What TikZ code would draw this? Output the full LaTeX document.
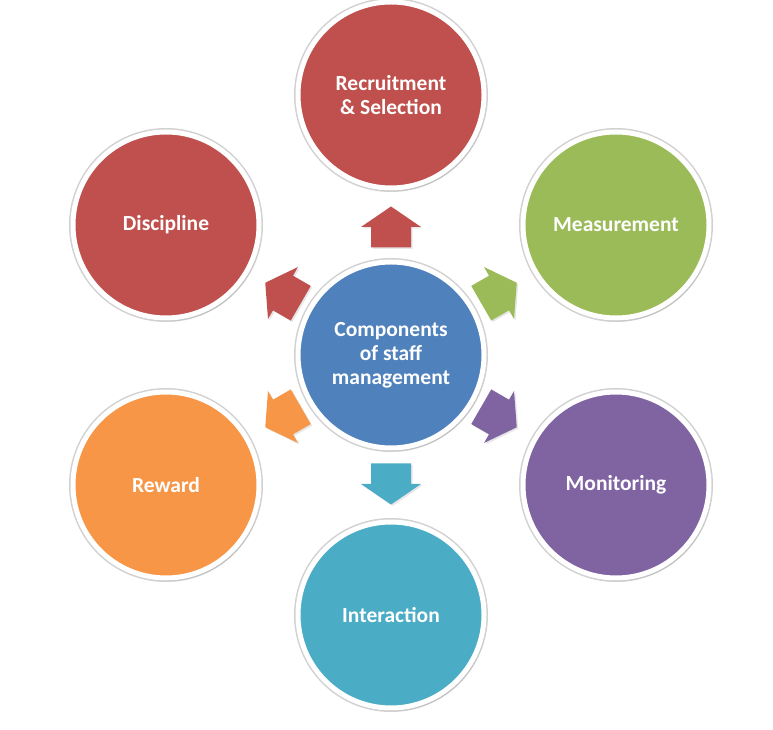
\documentclass[tikz,border=0pt]{standalone}
\usepackage{fontspec}
\setmainfont{Carlito}
\usetikzlibrary{shadows}
\definecolor{cred}{HTML}{C0504D}
\definecolor{cgreen}{HTML}{9BBB59}
\definecolor{cpurple}{HTML}{8064A2}
\definecolor{caqua}{HTML}{4BACC6}
\definecolor{corange}{HTML}{F79646}
\definecolor{cblue}{HTML}{4F81BD}
\tikzset{
  ball/.style={circle, minimum size=186pt, inner sep=0pt, fill=#1, draw=white, line width=5pt,
    preaction={draw=black!18, line width=8pt},
    drop shadow={opacity=0.22, shadow xshift=2pt, shadow yshift=-3pt},
    text=white, align=center, font=\fontsize{21.5}{24}\selectfont\bfseries},
  blockarrow/.style={fill=#1, draw=none,
    drop shadow={opacity=0.2, shadow xshift=1.5pt, shadow yshift=-1.5pt}}
}
\newcommand{\blockarr}[4]{%
  \path[blockarrow=#1, shift={(#2,#3)}, rotate=#4]
    (-20.5,-20) -- (0,-20) -- (0,-30) -- (20.5,0) -- (0,30) -- (0,20) -- (-20.5,20) -- cycle;}
\begin{document}
\begin{tikzpicture}[x=1pt,y=1pt]
\useasboundingbox (0,0) rectangle (773,730);
\node[ball=cblue] (center) at (391,375) {Components\\of staff\\management};
\node[ball=cred] (recruit) at (391,635) {Recruitment\\\& Selection};
\node[ball=cgreen] (measure) at (616,505) {Measurement};
\node[ball=cpurple] (monitor) at (616,245) {Monitoring};
\node[ball=caqua] (interact) at (391,115) {Interaction};
\node[ball=corange] (reward) at (166,245) {Reward};
\node[ball=cred] (discip) at (166,505) {Discipline};
\blockarr{cred}{391}{503}{90}
\blockarr{cgreen}{499}{437}{30}
\blockarr{cpurple}{499}{313}{-30}
\blockarr{caqua}{391}{246}{-90}
\blockarr{corange}{283}{313}{-150}
\blockarr{cred}{283}{437}{150}
\end{tikzpicture}
\end{document}
